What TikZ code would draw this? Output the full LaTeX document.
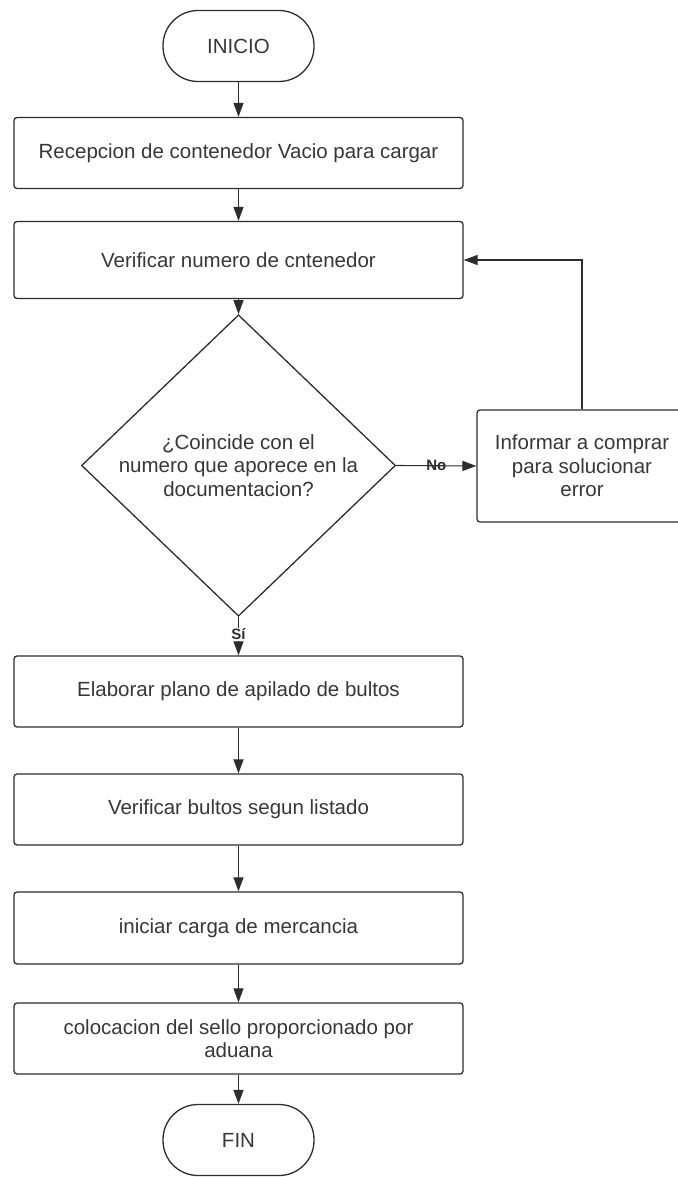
\documentclass[tikz,border=0pt]{standalone}
\usepackage{fontspec}
\setmainfont{Liberation Sans}
\usetikzlibrary{shapes.geometric,arrows.meta}
\definecolor{lineGray}{RGB}{45,45,45}
\definecolor{textGray}{RGB}{55,55,55}
\begin{document}
\begin{tikzpicture}[x=1pt,y=1pt,yscale=-1,xscale=1,
    every node/.style={text=textGray,font=\fontsize{20.5}{23.5}\selectfont},
    procbox/.style={draw=lineGray,line width=1.3pt,rounded corners=3pt,minimum width=449pt,minimum height=71pt,inner sep=0pt,align=center},
    termbox/.style={draw=lineGray,line width=1.3pt,rounded corners=35pt,minimum width=151pt,minimum height=71pt,inner sep=0pt},
    flow/.style={draw=lineGray,line width=1.1pt,-{Triangle[length=14pt,width=10pt]}},
    lbl/.style={font=\fontsize{15}{17}\selectfont\bfseries,text=lineGray,inner sep=1pt}]
        \useasboundingbox (0,0) rectangle (677,1177);
        %Shape: Terminal [id:inicio]
        \draw (238.5,46) node [termbox] (inicio) {INICIO};
        %Shape: Rectangle [id:recepcion]
        \draw (238.5,153) node [procbox] (recep) {Recepcion de contenedor Vacio para cargar};
        %Shape: Rectangle [id:verificar]
        \draw (238.5,260) node [procbox,minimum height=77pt] (verif) {Verificar numero de cntenedor};
        %Shape: Diamond [id:coincide]
        \draw (238.5,465.5) node [diamond,draw=lineGray,line width=1.3pt,minimum width=314pt,minimum height=255pt,inner sep=0pt,align=center] (coinc) {¿Coincide con el\\numero que aporece en la\\documentacion?};
        %Shape: Rectangle [id:informar]
        \draw (582,466) node [procbox,minimum width=210pt,minimum height=112pt] (infor) {Informar a comprar\\para solucionar\\error};
        %Shape: Rectangle [id:plano]
        \draw (238.5,691.5) node [procbox] (plano) {Elaborar plano de apilado de bultos};
        %Shape: Rectangle [id:bultos]
        \draw (238.5,809.5) node [procbox] (bultos) {Verificar bultos segun listado};
        %Shape: Rectangle [id:carga]
        \draw (238.5,928) node [procbox,minimum height=72pt] (carga) {iniciar carga de mercancia};
        %Shape: Rectangle [id:sello]
        \draw (238.5,1038.5) node [procbox] (sello) {colocacion del sello proporcionado por\\aduana};
        %Shape: Terminal [id:fin]
        \draw (238.5,1140) node [termbox] (fin) {FIN};
        %Straight Lines
        \draw [flow] (inicio) -- (recep);
        \draw [flow] (recep) -- (verif);
        \draw [flow] (verif) -- (coinc);
        \draw [flow] (coinc.east) -- (infor.west) node [lbl,pos=0.5] {No};
        \draw [flow] (infor.north) |- (verif.east);
        \draw [flow] (coinc.south) -- (plano.north) node [lbl,pos=0.45,fill=white] {Sí};
        \draw [flow] (plano) -- (bultos);
        \draw [flow] (bultos) -- (carga);
        \draw [flow] (carga) -- (sello);
        \draw [flow] (sello) -- (fin);
    \end{tikzpicture}
\end{document}
